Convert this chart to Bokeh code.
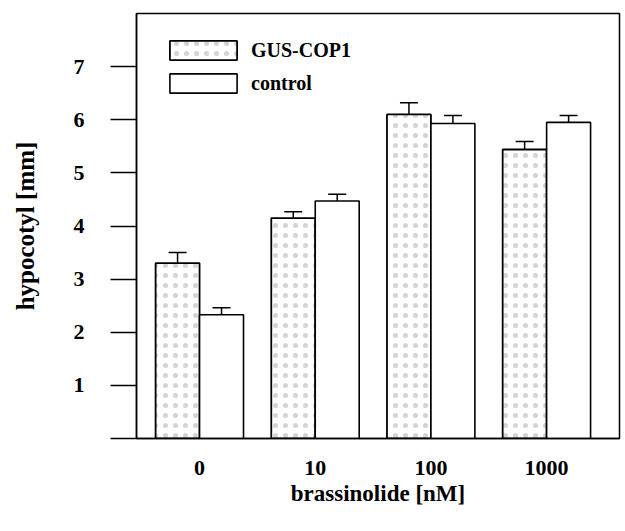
from bokeh.plotting import figure
from bokeh.models import (ColumnDataSource, FixedTicker, Whisker, TeeHead,
                          Legend, LegendItem, Range1d)
from bokeh.embed import file_html
from bokeh.resources import INLINE

# ---- data ----
concentrations = ["0", "10", "100", "1000"]
gus_values = [3.30, 4.15, 6.10, 5.44]
gus_errors = [0.20, 0.12, 0.22, 0.15]
control_values = [2.33, 4.47, 5.93, 5.95]
control_errors = [0.13, 0.13, 0.15, 0.13]
y_ticks = [0, 1, 2, 3, 4, 5, 6, 7]

FONT = "Liberation Serif"
BAR_W = 0.38
OFF = 0.19

pos = [i + 1 for i in range(len(concentrations))]

gus_src = ColumnDataSource(dict(
    x=[p_ - OFF for p_ in pos], top=gus_values,
    upper=[v + e for v, e in zip(gus_values, gus_errors)]))
ctl_src = ColumnDataSource(dict(
    x=[p_ + OFF for p_ in pos], top=control_values,
    upper=[v + e for v, e in zip(control_values, control_errors)]))

p = figure(width=622, height=515,
           x_range=Range1d(0.455, 4.63), y_range=Range1d(0, 8),
           output_backend="svg", toolbar_location=None,
           min_border_left=136, min_border_right=3,
           min_border_top=13, min_border_bottom=77)

p.grid.visible = False
p.outline_line_color = "black"
p.outline_line_width = 1.5
p.background_fill_color = "white"
p.border_fill_color = "white"

gus_r = p.vbar(x="x", top="top", width=BAR_W, source=gus_src,
               fill_color="white", line_color="black", line_width=1.8,
               hatch_pattern=".", hatch_color="#a8a8a8", hatch_scale=10,
               hatch_weight=0.5, hatch_alpha=0.5)
ctl_r = p.vbar(x="x", top="top", width=BAR_W, source=ctl_src,
               fill_color="white", line_color="black", line_width=1.6)

for src in (gus_src, ctl_src):
    w = Whisker(base="x", lower="top", upper="upper", source=src,
                dimension="height", line_color="black", line_width=1.5,
                upper_head=TeeHead(size=18, line_color="black", line_width=1.5),
                lower_head=None)
    p.add_layout(w)

# axes
p.yaxis.ticker = FixedTicker(ticks=y_ticks)
p.yaxis.major_label_overrides = {0: ""}
p.yaxis.major_tick_out = 26
p.yaxis.major_tick_in = 0
p.yaxis.minor_tick_line_color = None
p.yaxis.major_tick_line_width = 1.5
p.yaxis.axis_line_width = 1.5
p.yaxis.major_label_standoff = 26
p.yaxis.major_label_text_font = FONT
p.yaxis.major_label_text_font_style = "bold"
p.yaxis.major_label_text_font_size = "22px"
p.yaxis.major_label_text_color = "black"
p.yaxis.axis_label = "hypocotyl [mm]"
p.yaxis.axis_label_text_font = FONT
p.yaxis.axis_label_text_font_style = "bold"
p.yaxis.axis_label_text_font_size = "25px"
p.yaxis.axis_label_text_color = "black"
p.yaxis.axis_label_standoff = 32

p.xaxis.ticker = FixedTicker(ticks=pos)
p.xaxis.major_label_overrides = {pp: c for pp, c in zip(pos, concentrations)}
p.xaxis.major_tick_out = 0
p.xaxis.major_tick_in = 0
p.xaxis.minor_tick_line_color = None
p.xaxis.axis_line_width = 1.5
p.xaxis.major_label_standoff = 22
p.xaxis.major_label_text_font = FONT
p.xaxis.major_label_text_font_style = "bold"
p.xaxis.major_label_text_font_size = "22px"
p.xaxis.major_label_text_color = "black"
p.xaxis.axis_label = "brassinolide [nM]"
p.xaxis.axis_label_text_font = FONT
p.xaxis.axis_label_text_font_style = "bold"
p.xaxis.axis_label_text_font_size = "23px"
p.xaxis.axis_label_text_color = "black"
p.xaxis.axis_label_standoff = 3

legend = Legend(items=[LegendItem(label="GUS-COP1", renderers=[gus_r]),
                       LegendItem(label="control", renderers=[ctl_r])],
                location="top_left", margin=0, padding=25,
                glyph_width=84, glyph_height=24, spacing=9,
                label_standoff=6,
                label_text_font=FONT, label_text_font_style="bold",
                label_text_font_size="20px", label_text_color="black",
                border_line_alpha=0, background_fill_alpha=0)
p.add_layout(legend)

open("out.html", "w").write(file_html(p, INLINE))
